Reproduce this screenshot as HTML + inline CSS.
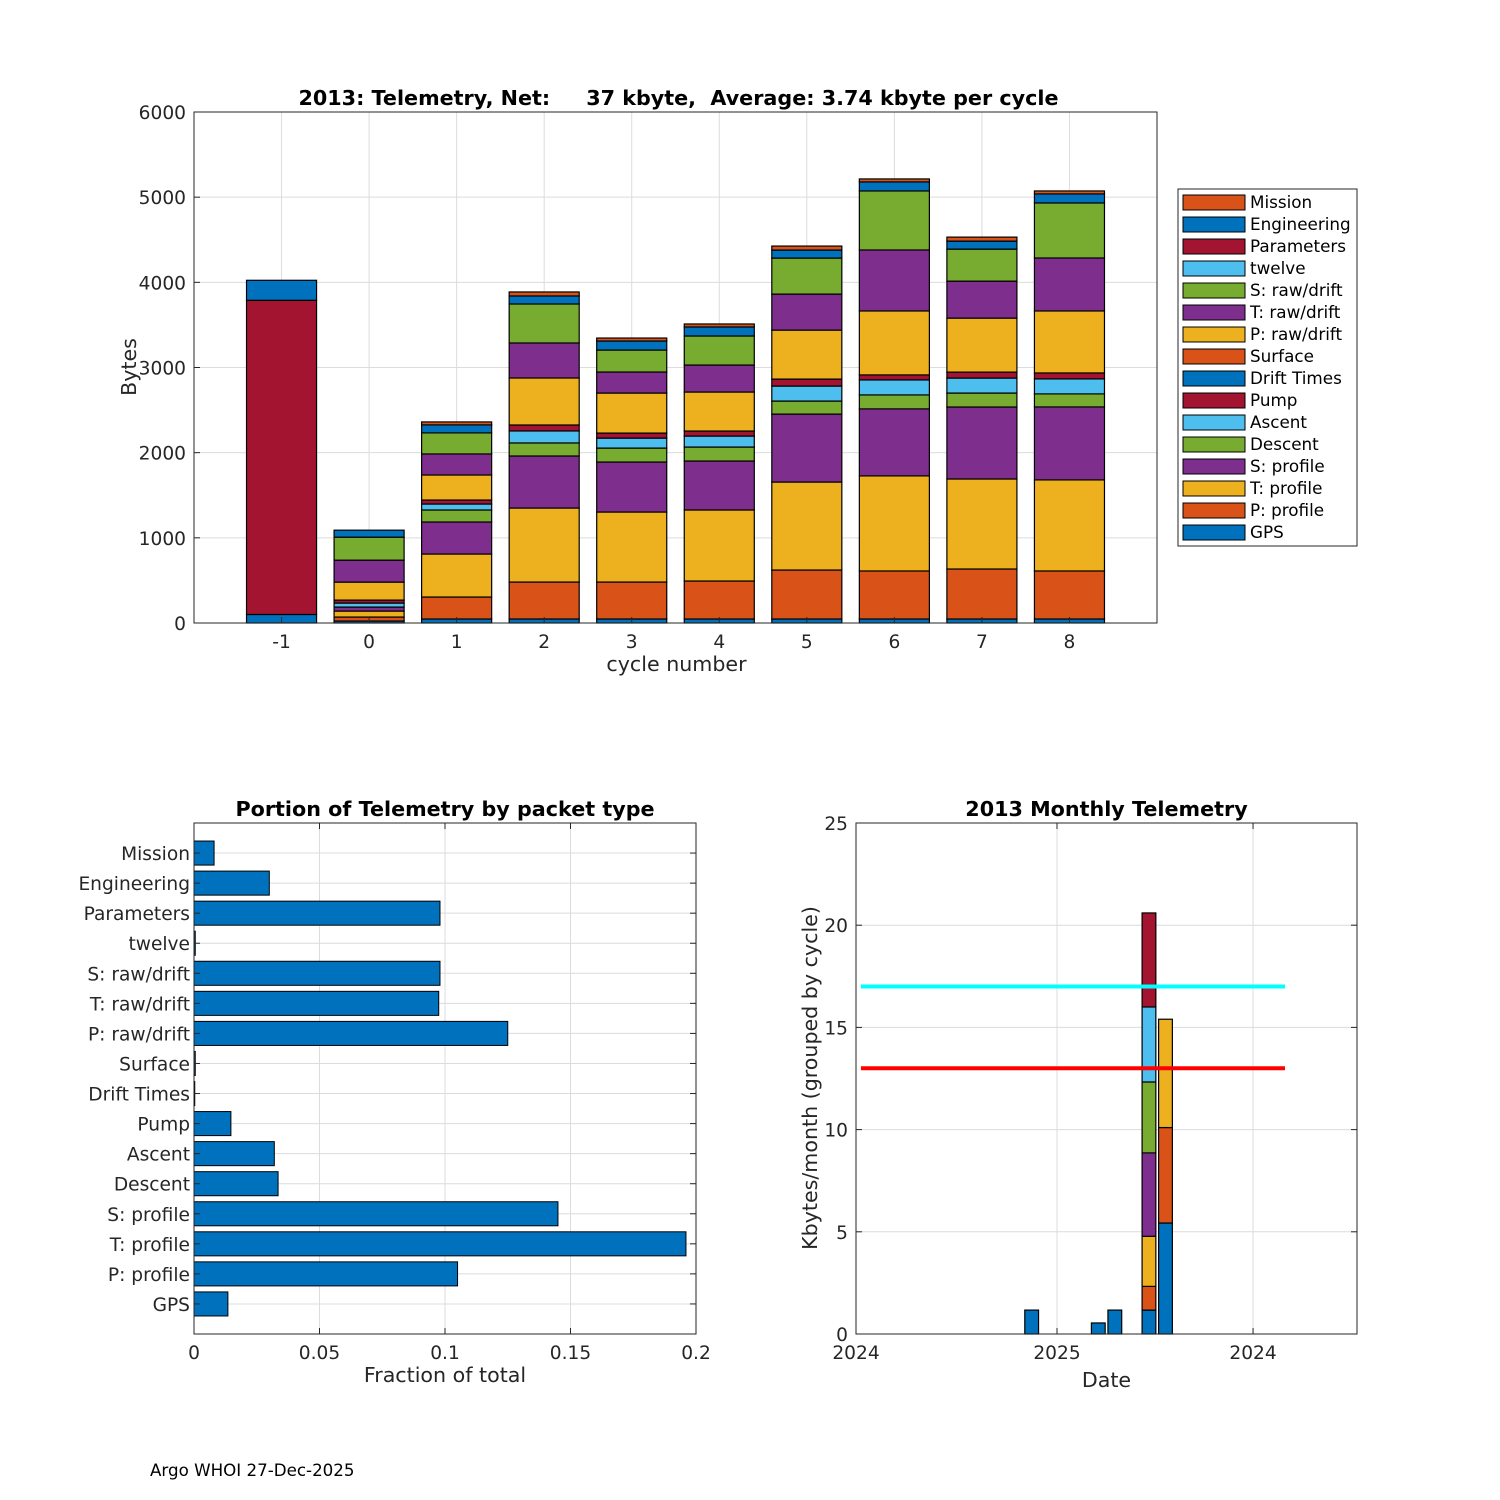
<!DOCTYPE html>
<html><head><meta charset="utf-8">
<style>
html,body{margin:0;padding:0;background:#fff;}
svg{display:block;font-family:"DejaVu Sans","Liberation Sans",sans-serif;}
</style></head>
<body>
<svg id="fig" width="1500" height="1500" viewBox="0 0 1500 1500" xmlns="http://www.w3.org/2000/svg">
<rect width="1500" height="1500" fill="#fff"/>
<g id="top"></g>
<g id="bl"></g>
<g id="br"></g>
<text x="150" y="1476" font-size="16.7" fill="#000">Argo WHOI 27-Dec-2025</text>
</svg>
<script>
// ---- top chart data ----
const cycles = [-1,0,1,2,3,4,5,6,7,8];
const seriesNames = ["GPS","P: profile","T: profile","S: profile","Descent","Ascent","Pump","Drift Times","Surface","P: raw/drift","T: raw/drift","S: raw/drift","twelve","Parameters","Engineering","Mission"];
const gpsBytes   = [100,23,47,47,47,47,47,47,47,47];
const pProfile   = [0,47,258,434,434,446,575,564,587,564];
const tProfile   = [0,70,505,869,822,834,1033,1116,1057,1069];
const sProfile   = [0,47,376,611,587,575,798,787,845,857];
const descent    = [0,0,141,153,164,164,153,164,164,153];
const ascent     = [0,47,70,141,117,129,176,176,176,176];
const pump       = [0,35,47,70,59,59,82,59,70,70];
const driftTimes = [0,0,0,0,0,0,0,0,0,0];
const surface    = [0,0,0,0,0,0,0,0,0,0];
const pRaw       = [0,211,294,552,470,458,575,751,634,728];
const tRaw       = [0,258,247,411,247,317,423,716,434,622];
const sRaw       = [0,270,247,458,258,341,423,693,376,646];
const twelve     = [0,0,0,0,0,0,0,0,0,0];
const parameters = [3689,0,0,0,0,0,0,0,0,0];
const engineering= [235,82,94,94,106,106,94,106,94,106];
const mission    = [0,0,35,47,35,35,47,35,47,35];
const topYTicks = [0,1000,2000,3000,4000,5000,6000];
// ---- bottom-left data ----
const packetTypes = ["GPS","P: profile","T: profile","S: profile","Descent","Ascent","Pump","Drift Times","Surface","P: raw/drift","T: raw/drift","S: raw/drift","twelve","Parameters","Engineering","Mission"];
const fractions = [0.0135,0.105,0.196,0.145,0.0335,0.032,0.0147,0.0003,0.0005,0.125,0.0975,0.098,0.0005,0.098,0.030,0.008];
const fracTicks = [0,0.05,0.1,0.15,0.2];
const fracTickLabels = ["0","0.05","0.1","0.15","0.2"];
// ---- bottom-right data (x in days from axis start) ----
const monthDays = [319,440,470,532,562];
const monthStacks = [[1.17],[0.54],[1.17],[1.17,1.16,2.45,4.08,3.47,3.67,4.6],[5.43,4.67,5.3]];
const monthYTicks = [0,5,10,15,20,25];
const dateTickDays = [0,365,721];
const dateTickLabels = ["2024","2025","2024"];
const refLineCyan = 17;
const refLineRed = 13;
const refLineStart = 9, refLineEnd = 779;

const C = ["#0072BD","#D95319","#EDB120","#7E2F8E","#77AC30","#4DBEEE","#A2142F"];
const NS="http://www.w3.org/2000/svg";
function el(parent,tag,attrs,text){const e=document.createElementNS(NS,tag);for(const k in attrs)e.setAttribute(k,attrs[k]);if(text!==undefined)e.textContent=text;parent.appendChild(e);return e;}
const AX="#262626", GR="#dcdcdc";
const TF=18.6, LF=20.6;

// ================= TOP =================
(function(){
const g=document.getElementById('top');
const L=194,R=1157,T=112,B=623;
const x=v=>L+(v+2)/11*(R-L);
const y=v=>B-v/6000*(B-T);
for(const c of cycles){const l=el(g,'line',{x1:x(c),x2:x(c),y1:T,y2:B,stroke:GR,'stroke-width':1});}
for(const t of topYTicks){const l=el(g,'line',{x1:L,x2:R,y1:y(t),y2:y(t),stroke:GR,'stroke-width':1});}
const series=[gpsBytes,pProfile,tProfile,sProfile,descent,ascent,pump,driftTimes,surface,pRaw,tRaw,sRaw,twelve,parameters,engineering,mission];
const colIdx=[0,1,2,3,4,5,6,0,1,2,3,4,5,6,0,1];
cycles.forEach((c,i)=>{
  let acc=0;
  series.forEach((s,k)=>{
    const v=s[i]; if(v<=0) return;
    const r=el(g,'rect',{x:x(c-0.4),y:y(acc+v),width:x(c+0.4)-x(c-0.4),height:y(acc)-y(acc+v),fill:C[colIdx[k]],stroke:'#000','stroke-width':1.2});
    
    
    acc+=v;
  });
});
el(g,'rect',{x:L,y:T,width:R-L,height:B-T,fill:'none',stroke:AX,'stroke-width':1});
for(const c of cycles){
  el(g,'line',{x1:x(c),x2:x(c),y1:B,y2:B-6,stroke:AX});
  const t=el(g,'text',{x:x(c),y:B+25,'text-anchor':'middle','font-size':TF,fill:AX},String(c));
  
}
for(const v of topYTicks){
  el(g,'line',{x1:L,x2:L+6,y1:y(v),y2:y(v),stroke:AX});
  const t=el(g,'text',{x:L-8,y:y(v)+7,'text-anchor':'end','font-size':TF,fill:AX},String(v));
  
}
let t=el(g,'text',{x:(L+R)/2+3,y:105,'text-anchor':'middle','font-size':20.7,'font-weight':'bold',fill:'#000','xml:space':'preserve'},"2013: Telemetry, Net:     37 kbyte,  Average: 3.74 kbyte per cycle");
t.style.whiteSpace='pre';

t=el(g,'text',{x:(L+R)/2+1,y:671,'text-anchor':'middle','font-size':LF,fill:AX},"cycle number");

t=el(g,'text',{x:136,y:367,'text-anchor':'middle','font-size':LF,fill:AX,transform:'rotate(-90 136 367)'},"Bytes");

// legend
const lg=el(g,'g',{});

el(lg,'rect',{x:1178,y:189,width:179,height:357,fill:'#fff',stroke:AX,'stroke-width':1});
const legNames=["Mission","Engineering","Parameters","twelve","S: raw/drift","T: raw/drift","P: raw/drift","Surface","Drift Times","Pump","Ascent","Descent","S: profile","T: profile","P: profile","GPS"];
const legCols=[1,0,6,5,4,3,2,1,0,6,5,4,3,2,1,0];
legNames.forEach((n,i)=>{
  const ey=202+i*22;
  const e=el(lg,'g',{});
  
  el(e,'rect',{x:1183,y:ey-7,width:62,height:15,fill:C[legCols[i]],stroke:'#000','stroke-width':1});
  el(e,'text',{x:1250,y:ey+6,'font-size':16.8,fill:'#000'},n);
});
})();

// ================= BOTTOM LEFT =================
(function(){
const g=document.getElementById('bl');
const L=194,R=696,T=823,B=1334;
const x=v=>L+v/0.2*(R-L);
const y=i=>B-(i+1)/17*(B-T);
for(const v of fracTicks){const l=el(g,'line',{x1:x(v),x2:x(v),y1:T,y2:B,stroke:GR});}
packetTypes.forEach((n,i)=>{const l=el(g,'line',{x1:L,x2:R,y1:y(i),y2:y(i),stroke:GR});});
packetTypes.forEach((n,i)=>{
  const h=0.8/17*(B-T);
  const r=el(g,'rect',{x:x(0),y:y(i)-h/2,width:x(fractions[i])-x(0),height:h,fill:C[0],stroke:'#000','stroke-width':1});
  
  
  el(g,'line',{x1:L,x2:L+6,y1:y(i),y2:y(i),stroke:AX});
  el(g,'line',{x1:R,x2:R-6,y1:y(i),y2:y(i),stroke:AX});
  const t=el(g,'text',{x:L-4,y:y(i)+7,'text-anchor':'end','font-size':TF,fill:AX},n);
  
});
el(g,'rect',{x:L,y:T,width:R-L,height:B-T,fill:'none',stroke:AX});
fracTicks.forEach((v,i)=>{
  el(g,'line',{x1:x(v),x2:x(v),y1:B,y2:B-6,stroke:AX});
  el(g,'line',{x1:x(v),x2:x(v),y1:T,y2:T+6,stroke:AX});
  const t=el(g,'text',{x:x(v),y:B+25,'text-anchor':'middle','font-size':TF,fill:AX},fracTickLabels[i]);
  
});
let t=el(g,'text',{x:(L+R)/2,y:816,'text-anchor':'middle','font-size':20.7,'font-weight':'bold',fill:'#000'},"Portion of Telemetry by packet type");

t=el(g,'text',{x:(L+R)/2,y:1382,'text-anchor':'middle','font-size':LF,fill:AX},"Fraction of total");

})();

// ================= BOTTOM RIGHT =================
(function(){
const g=document.getElementById('br');
const L=856,R=1357,T=823,B=1334;
const x=d=>L+d/365*(1057-856);
const y=v=>B-v/25*(B-T);
for(const d of dateTickDays){const l=el(g,'line',{x1:x(d),x2:x(d),y1:T,y2:B,stroke:GR});}
for(const v of monthYTicks){const l=el(g,'line',{x1:L,x2:R,y1:y(v),y2:y(v),stroke:GR});}
monthDays.forEach((d,i)=>{
  let acc=0;
  monthStacks[i].forEach((v,k)=>{
    const r=el(g,'rect',{x:x(d-12.5),y:y(acc+v),width:x(d+12.5)-x(d-12.5),height:y(acc)-y(acc+v),fill:C[k%7],stroke:'#000','stroke-width':1.2});
    
    
    acc+=v;
  });
});
let l=el(g,'line',{x1:x(refLineStart),x2:x(refLineEnd),y1:y(refLineCyan),y2:y(refLineCyan),stroke:'#00ffff','stroke-width':4});

l=el(g,'line',{x1:x(refLineStart),x2:x(refLineEnd),y1:y(refLineRed),y2:y(refLineRed),stroke:'#ff0000','stroke-width':4});

el(g,'rect',{x:L,y:T,width:R-L,height:B-T,fill:'none',stroke:AX});
for(const v of monthYTicks){
  el(g,'line',{x1:L,x2:L+6,y1:y(v),y2:y(v),stroke:AX});
  el(g,'line',{x1:R,x2:R-6,y1:y(v),y2:y(v),stroke:AX});
  const t=el(g,'text',{x:L-8,y:y(v)+7,'text-anchor':'end','font-size':TF,fill:AX},String(v));
  
}
dateTickDays.forEach((d,i)=>{
  el(g,'line',{x1:x(d),x2:x(d),y1:B,y2:B-6,stroke:AX});
  el(g,'line',{x1:x(d),x2:x(d),y1:T,y2:T+6,stroke:AX});
  const t=el(g,'text',{x:x(d),y:B+25,'text-anchor':'middle','font-size':TF,fill:AX},dateTickLabels[i]);
  
});
let t=el(g,'text',{x:(L+R)/2,y:816,'text-anchor':'middle','font-size':20.7,'font-weight':'bold',fill:'#000'},"2013 Monthly Telemetry");

t=el(g,'text',{x:(L+R)/2,y:1387,'text-anchor':'middle','font-size':LF,fill:AX},"Date");

t=el(g,'text',{x:817,y:1078,'text-anchor':'middle','font-size':LF,fill:AX,transform:'rotate(-90 817 1078)'},"Kbytes/month (grouped by cycle)");

})();
</script>
</body></html>
